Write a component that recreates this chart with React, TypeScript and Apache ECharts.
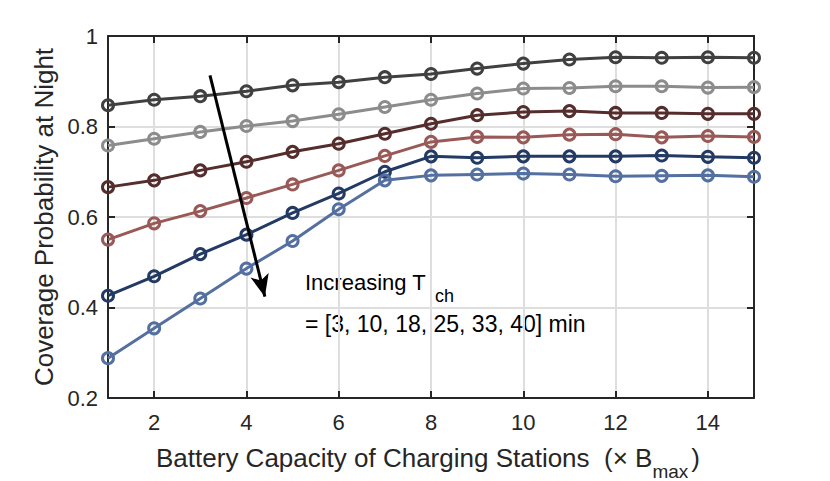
import React, { useEffect, useRef } from "react";
import * as echarts from "echarts";

const xValues = [1, 2, 3, 4, 5, 6, 7, 8, 9, 10, 11, 12, 13, 14, 15];
const xTickValues = [2, 4, 6, 8, 10, 12, 14];
const seriesNames = ["T_ch = 3 min", "T_ch = 10 min", "T_ch = 18 min", "T_ch = 25 min", "T_ch = 33 min", "T_ch = 40 min"];
const seriesColors = ["#404040", "#8c8c8c", "#552d2d", "#985957", "#233a64", "#5470a0"];
const tch3 = [0.847, 0.859, 0.867, 0.878, 0.891, 0.898, 0.909, 0.916, 0.928, 0.939, 0.948, 0.953, 0.952, 0.953, 0.952];
const tch10 = [0.758, 0.773, 0.788, 0.801, 0.812, 0.827, 0.843, 0.859, 0.873, 0.884, 0.885, 0.889, 0.889, 0.886, 0.887];
const tch18 = [0.666, 0.681, 0.703, 0.722, 0.744, 0.762, 0.784, 0.806, 0.825, 0.832, 0.834, 0.830, 0.830, 0.828, 0.828];
const tch25 = [0.550, 0.586, 0.613, 0.642, 0.672, 0.703, 0.735, 0.766, 0.777, 0.776, 0.782, 0.783, 0.776, 0.779, 0.777];
const tch33 = [0.426, 0.469, 0.518, 0.561, 0.609, 0.652, 0.700, 0.734, 0.731, 0.734, 0.734, 0.734, 0.736, 0.733, 0.731];
const tch40 = [0.288, 0.354, 0.420, 0.486, 0.547, 0.617, 0.681, 0.692, 0.694, 0.696, 0.694, 0.690, 0.691, 0.692, 0.689];
const seriesValues = [tch3, tch10, tch18, tch25, tch33, tch40];
// arrow annotation (data coordinates): tail and tip
const arrowStart = [3.21, 0.913];
const arrowEnd = [4.40, 0.424];

const FONT = "'Liberation Sans', Arial, Helvetica, sans-serif";
const INK = "#262626";

export default function App() {
  const ref = useRef<HTMLDivElement>(null);
  useEffect(() => {
    if (!ref.current) return;
    const chart = echarts.init(ref.current, null, { renderer: "svg" });
    const axisLine = { show: true, lineStyle: { color: INK, width: 2 } };
    const tick = { show: true, inside: true, length: 7, lineStyle: { color: INK, width: 2 } };
    const series: any[] = seriesValues.map((vals, i) => ({
      type: "line",
      name: seriesNames[i],
      data: xValues.map((x, j) => [x, vals[j]]),
      symbol: "circle",
      symbolSize: 11,
      clip: false,
      lineStyle: { color: seriesColors[i], width: 3 },
      itemStyle: { color: "rgba(0,0,0,0)", borderColor: seriesColors[i], borderWidth: 3 },
      emphasis: { disabled: true },
      z: 3,
    }));
    series[0].markLine = {
      silent: true,
      symbol: ["none", "arrow"],
      symbolSize: [14, 22],
      label: { show: false },
      lineStyle: { color: "#000", width: 3, type: "solid" },
      emphasis: { disabled: true },
      data: [[{ coord: arrowStart }, { coord: arrowEnd }]],
    };
    chart.setOption({
      animation: false,
      backgroundColor: "#fff",
      grid: { left: 108, right: 76, top: 36, bottom: 83 },
      xAxis: [
        {
          type: "value",
          min: 1,
          max: 15,
          axisLine,
          axisTick: { ...tick, customValues: xTickValues },
          axisLabel: { customValues: xTickValues, fontSize: 22, color: INK, fontFamily: FONT, margin: 13 },
          splitLine: { show: true, lineStyle: { color: "#dedede", width: 2 } },
        },
        {
          type: "value",
          position: "top",
          min: 1,
          max: 15,
          axisLine,
          axisTick: { ...tick, customValues: xTickValues },
          axisLabel: { show: false, customValues: xTickValues },
          splitLine: { show: false },
        },
      ],
      yAxis: [
        {
          type: "value",
          min: 0.2,
          max: 1,
          interval: 0.2,
          axisLine,
          axisTick: tick,
          axisLabel: { fontSize: 22, color: INK, fontFamily: FONT, margin: 10 },
          splitLine: { show: true, lineStyle: { color: "#dedede", width: 2 } },
          name: "Coverage Probability at Night",
          nameLocation: "middle",
          nameGap: 51,
          nameTextStyle: { fontSize: 26, color: INK, fontFamily: FONT },
        },
        {
          type: "value",
          position: "right",
          min: 0.2,
          max: 1,
          interval: 0.2,
          axisLine,
          axisTick: tick,
          axisLabel: { show: false },
          splitLine: { show: false },
        },
      ],
      series,
      graphic: [
        {
          type: "text",
          x: 305,
          y: 269,
          silent: true,
          style: {
            text: "{m|Increasing T}{s|ch}",
            align: "left",
            verticalAlign: "top",
            fill: "#000",
            rich: {
              m: { fontSize: 22, lineHeight: 26, fontFamily: FONT, fill: "#000" },
              s: { fontSize: 18, lineHeight: 18, fontFamily: FONT, fill: "#000", padding: [27, 0, 0, 9] },
            },
          },
        },
        {
          type: "text",
          x: 305,
          y: 311,
          silent: true,
          style: {
            text: "= [3, 10, 18, 25, 33, 40] min",
            align: "left",
            verticalAlign: "top",
            fontSize: 23,
            lineHeight: 26,
            fontFamily: FONT,
            fill: "#000",
          },
        },
        {
          type: "text",
          x: 428,
          y: 443,
          silent: true,
          style: {
            text: "{m|Battery Capacity of Charging Stations  (× B}{s|max}{p|)}",
            align: "center",
            verticalAlign: "top",
            fill: INK,
            rich: {
              m: { fontSize: 26, lineHeight: 30, fontFamily: FONT, fill: INK },
              s: { fontSize: 19, lineHeight: 19, fontFamily: FONT, fill: INK, padding: [26, 0, 0, 0] },
              p: { fontSize: 26, lineHeight: 30, fontFamily: FONT, fill: INK, padding: [0, 0, 0, 3] },
            },
          },
        },
      ],
    });
    return () => chart.dispose();
  }, []);
  return <div ref={ref} style={{ position: "absolute", left: 0, top: 0, width: 830, height: 481 }} />;
}
